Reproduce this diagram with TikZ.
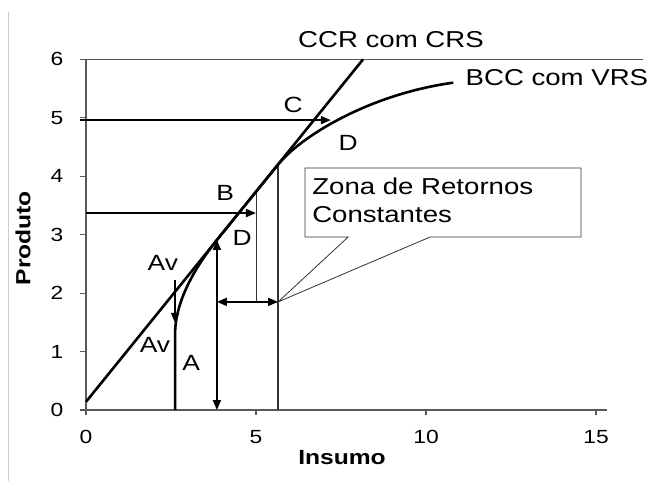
\documentclass[tikz,border=0pt]{standalone}
\usepackage{fontspec}
\setmainfont{Liberation Sans}[FakeStretch=1.2]
\usetikzlibrary{arrows.meta}

\begin{document}
\begin{tikzpicture}[x=34pt, y=58.45pt, font=\fontsize{22}{26}\selectfont,
  lbl/.style = {inner sep=0pt},
  big/.style = {inner sep=0pt, font=\fontsize{23}{27}\selectfont},
  tick/.style = {inner sep=0pt, font=\fontsize{19}{23}\selectfont},
  title/.style = {inner sep=0pt, font=\fontsize{20.5}{24}\selectfont\bfseries},
  curve/.style = {line width=2.6pt, line join=round},
  arr/.style = {line width=1.8pt, -{Triangle[length=10pt,width=8pt]}},
  darr/.style = {line width=1.8pt, {Triangle[length=10pt,width=8pt]}-{Triangle[length=10pt,width=8pt]}},
  axis/.style = {line width=1.2pt, black!65},
  guide/.style = {line width=1pt, black!80}]
  \useasboundingbox (-2.529,-1.2147) rectangle (16.676,7.0146);
  \draw[black!20, line width=1pt] (-2.29,-1.2147) -- (-2.29,6.81);

  \coordinate (ccr0) at (0,0.14);
  \coordinate (ccr1) at (8.15,6);
  \coordinate (a0) at (2.62,0);
  \coordinate (a1) at (2.62,1.3);
  \coordinate (t1) at (3.85,2.91);
  \coordinate (t2) at (5.65,4.2);
  \coordinate (bcc1) at (10.8,5.6);
  \coordinate (b5) at (5,3.74);
  \coordinate (h5) at (5,1.85);
  \coordinate (z0) at (5.65,0);
  \coordinate (zt) at (5.65,1.85);
  \coordinate (d0) at (3.85,0);
  \coordinate (zl) at (3.85,1.85);
  \coordinate (p1) at (0,3.37);
  \coordinate (p2) at (5,3.37);
  \coordinate (q1) at (-0.18,4.96);
  \coordinate (q2) at (7.2,4.96);
  \coordinate (v1) at (2.62,2.22);
  \coordinate (v2) at (2.62,1.49);
  \coordinate (k1) at (6.44,4.14);
  \coordinate (k2) at (14.56,4.14);
  \coordinate (k3) at (14.56,2.96);
  \coordinate (k4) at (10.12,2.96);
  \coordinate (k5) at (7.71,2.96);
  \coordinate (k6) at (6.44,2.96);

  \draw[axis] (-0.18,6) -- (16.38,6);
  \draw[axis] (-0.18,0) -- (15.32,0);
  \draw[axis] (0,0) -- (0,6);
  \foreach \y in {0,...,6} {
    \draw[axis] (-0.18,\y) -- (0,\y);
    \node[tick] (y\y) at (-0.85,\y) {\y};
  }
  \foreach \x in {0,5,10,15} {
    \draw[axis] (\x,0) -- (\x,-0.09);
    \node[tick] (x\x) at (\x,-0.46) {\x};
  }
  \node[title, rotate=90] (prod) at (-1.85,2.94) {Produto};
  \node[title] (ins) at (7.53,-0.82) {Insumo};

  \draw[guide, line width=0.8pt, fill=white] (k1) -- (k2) -- (k3) -- (k4) -- (zt) -- (k5) -- (k6) -- cycle;
  \node[big, anchor=west] (zona1) at (6.65,3.82) {Zona de Retornos};
  \node[big, anchor=west] (zona2) at (6.65,3.34) {Constantes};

  \draw[guide] (b5) -- (h5);
  \draw[guide, line width=1.3pt] (t2) -- (z0);
  \draw[curve] (ccr0) -- (ccr1);
  \draw[curve] (a0) -- (a1) .. controls (2.62,1.9) and (3.3,2.51) .. (t1) -- (t2) .. controls (6.3,4.67) and (8.3,5.4) .. (bcc1);
  \draw[darr] (d0) -- (t1);
  \draw[darr] (zl) -- (zt);
  \draw[arr] (p1) -- (p2);
  \draw[arr] (q1) -- (q2);
  \draw[arr, line width=1.4pt] (v1) -- (v2);

  \node[big] (ccr) at (8.97,6.33) {CCR com CRS};
  \node[big] (bcc) at (13.85,5.68) {BCC com VRS};
  \node[lbl] (c) at (6.09,5.22) {C};
  \node[lbl] (d1) at (7.71,4.57) {D};
  \node[lbl] (b) at (4.09,3.71) {B};
  \node[lbl] (d2) at (4.59,2.94) {D};
  \node[lbl] (av1) at (2.26,2.51) {Av};
  \node[lbl] (av2) at (2.03,1.11) {Av};
  \node[lbl] (a) at (3.09,0.80) {A};
\end{tikzpicture}
\end{document}
